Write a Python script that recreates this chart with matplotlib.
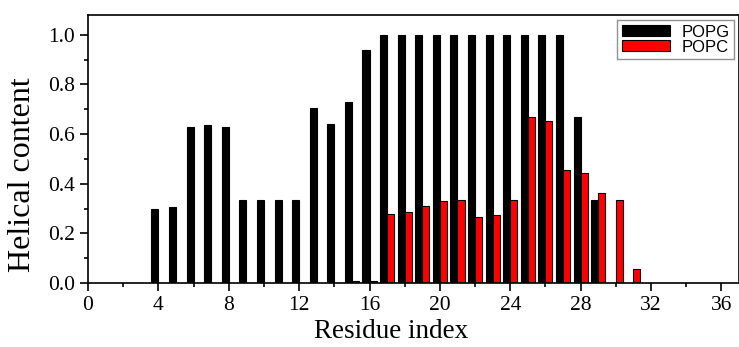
import numpy as np
import matplotlib.pyplot as plt
from matplotlib.ticker import MultipleLocator

residues = list(range(1, 37))
popg = [0, 0, 0, 0.30, 0.305, 0.63, 0.637, 0.63, 0.335, 0.335, 0.335, 0.335,
        0.705, 0.642, 0.728, 0.94, 1.0, 1.0, 1.0, 1.0, 1.0, 1.0, 1.0, 1.0,
        1.0, 1.0, 1.0, 0.668, 0.335, 0, 0, 0, 0, 0, 0, 0]
popc = [0, 0, 0, 0, 0, 0, 0, 0, 0, 0, 0, 0,
        0, 0, 0.01, 0.01, 0.278, 0.285, 0.312, 0.331, 0.334, 0.265, 0.275, 0.336,
        0.668, 0.653, 0.457, 0.444, 0.364, 0.334, 0.055, 0, 0, 0, 0, 0]

x = np.array(residues)
w = 0.4

fig = plt.figure(figsize=(7.39, 3.47), dpi=100)
ax = fig.add_axes([88 / 739, 64 / 347, 651 / 739, 268 / 347])

ax.bar(x - w / 2, popg, width=w, color="black", edgecolor="black", linewidth=0.8, label="POPG")
ax.bar(x + w / 2, popc, width=w, color="#ff0000", edgecolor="black", linewidth=0.8, label="POPC")

ax.set_xlim(0, 37)
ax.set_ylim(0, 1.08)
ax.xaxis.set_major_locator(MultipleLocator(4))
ax.xaxis.set_minor_locator(MultipleLocator(2))
ax.yaxis.set_major_locator(MultipleLocator(0.2))
ax.yaxis.set_minor_locator(MultipleLocator(0.1))
ax.yaxis.set_major_formatter(plt.FormatStrFormatter("%.1f"))
ax.tick_params(which="major", direction="out", length=5.5, width=1.2, labelsize=15.5, pad=4)
ax.tick_params(which="minor", direction="out", length=3, width=1.2)
for lab in ax.get_xticklabels() + ax.get_yticklabels():
    lab.set_fontfamily("Liberation Serif")
for s in ax.spines.values():
    s.set_linewidth(1.2)

ax.set_xlabel("Residue index", fontsize=19.5, fontfamily="Liberation Serif", va="top")
ax.xaxis.set_label_coords((391.5 - 88) / 651, -0.135)
ax.set_ylabel("Helical content", fontsize=23, fontfamily="Liberation Serif", va="center")
ax.yaxis.set_label_coords(-0.1, (283 - 174.5) / 268)

leg = ax.legend(loc="upper right", bbox_to_anchor=(0.992, 0.98), fancybox=False,
                prop={"family": "Liberation Sans", "size": 12}, handlelength=2.9,
                handleheight=0.65, borderpad=0.25, labelspacing=0.0, handletextpad=0.7,
                borderaxespad=0)
leg.get_frame().set_edgecolor("#777777")
leg.get_frame().set_linewidth(1.0)

fig.savefig("out.png", dpi=100)
